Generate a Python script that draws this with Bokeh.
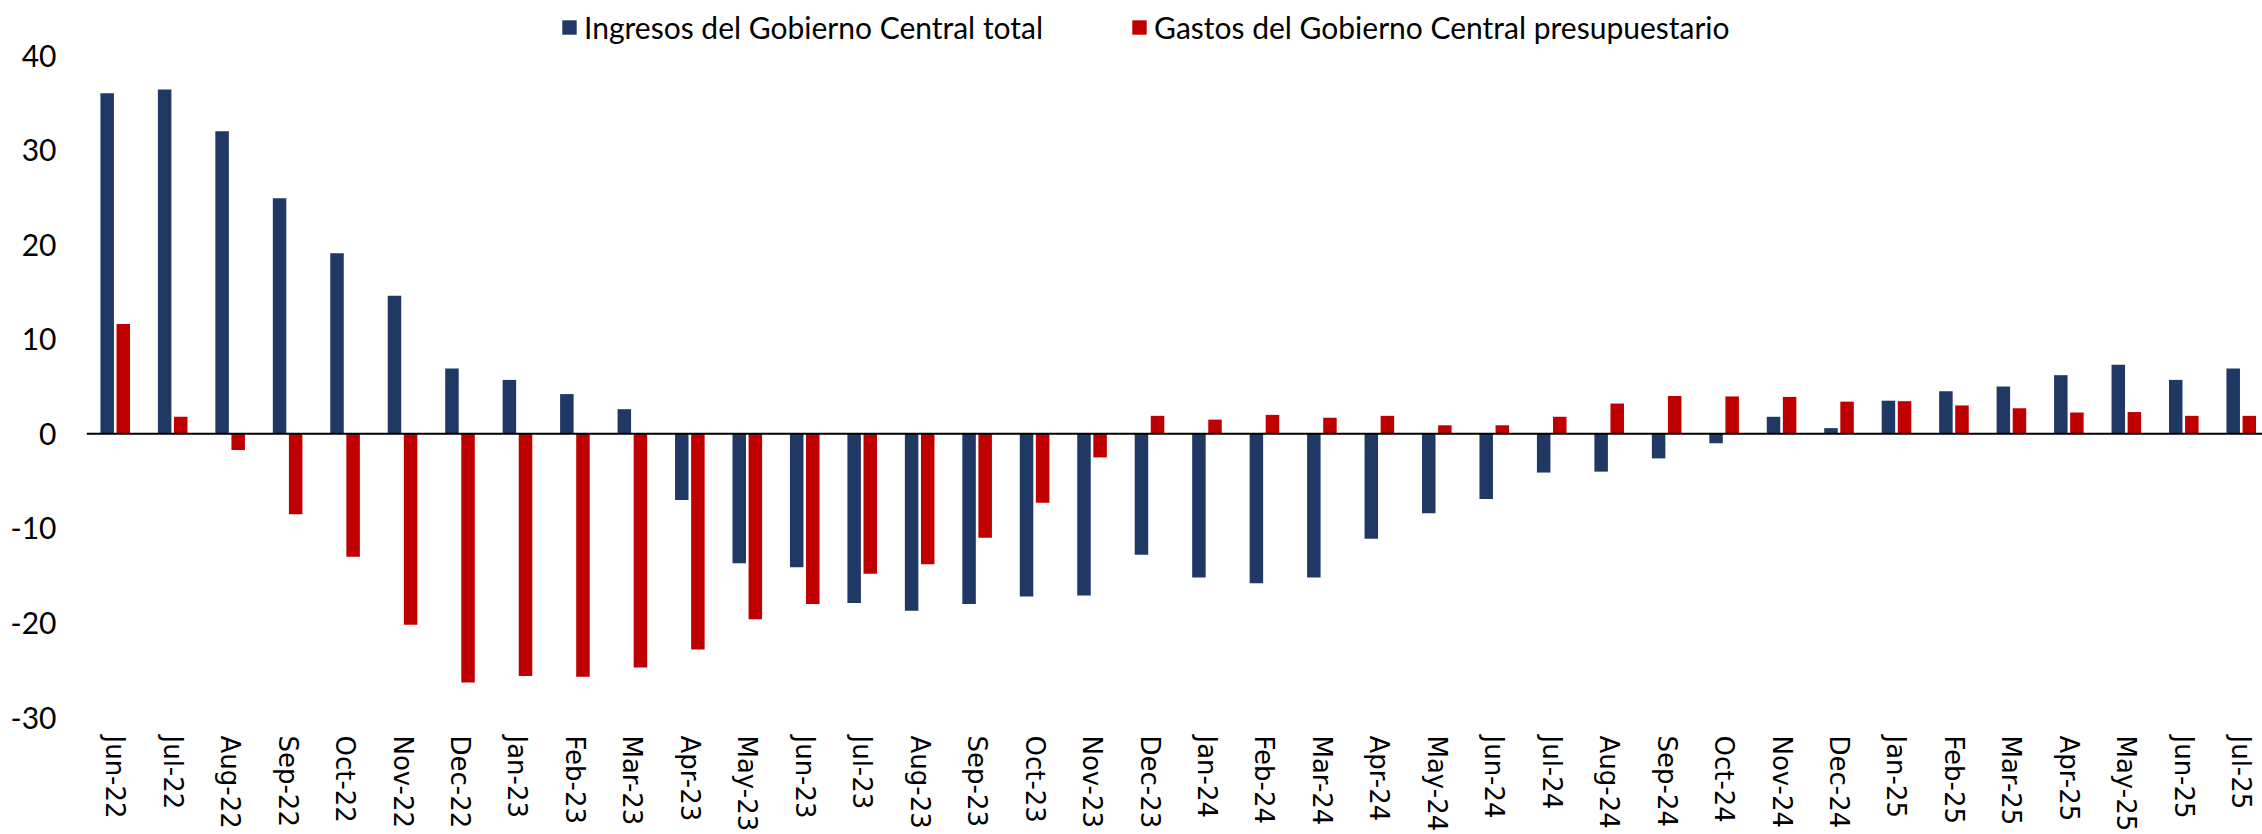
from bokeh.plotting import figure
from bokeh.models import ColumnDataSource, Range1d, FixedTicker, Span, Legend, LegendItem
from bokeh.transform import dodge
from bokeh.embed import file_html
from bokeh.resources import INLINE

months = ["Jun-22", "Jul-22", "Aug-22", "Sep-22", "Oct-22", "Nov-22", "Dec-22",
          "Jan-23", "Feb-23", "Mar-23", "Apr-23", "May-23", "Jun-23", "Jul-23",
          "Aug-23", "Sep-23", "Oct-23", "Nov-23", "Dec-23",
          "Jan-24", "Feb-24", "Mar-24", "Apr-24", "May-24", "Jun-24", "Jul-24",
          "Aug-24", "Sep-24", "Oct-24", "Nov-24", "Dec-24",
          "Jan-25", "Feb-25", "Mar-25", "Apr-25", "May-25", "Jun-25", "Jul-25"]

ingresos = [36.0, 36.4, 32.0, 24.9, 19.1, 14.6, 6.9,
            5.7, 4.2, 2.6, -7.0, -13.7, -14.1, -17.9,
            -18.7, -18.0, -17.2, -17.1, -12.8,
            -15.2, -15.8, -15.2, -11.1, -8.4, -6.9, -4.1,
            -4.0, -2.6, -1.0, 1.8, 0.6,
            3.5, 4.5, 5.0, 6.2, 7.3, 5.7, 6.9]

gastos = [11.6, 1.8, -1.7, -8.5, -13.0, -20.2, -26.3,
          -25.6, -25.7, -24.7, -22.8, -19.6, -18.0, -14.8,
          -13.8, -11.0, -7.3, -2.5, 1.9,
          1.5, 2.0, 1.7, 1.9, 0.9, 0.9, 1.8,
          3.2, 4.0, 3.95, 3.9, 3.4,
          3.45, 3.0, 2.7, 2.25, 2.3, 1.9, 1.9]

y_ticks = [-30, -20, -10, 0, 10, 20, 30, 40]
y_tick_labels = ["-30", "-20", "-10", "0", "10", "20", "30", "40"]

series_names = ["Ingresos del Gobierno Central total", "Gastos del Gobierno Central presupuestario"]
colors = ["#1F3864", "#C00000"]

src = ColumnDataSource(dict(x=list(range(len(months))), ing=ingresos, gas=gastos))

# frame: 86..2262 px wide, 0..717 px tall; headroom above 40 holds the legend
p = figure(width=2262, height=834, output_backend="svg", toolbar_location=None,
           x_range=Range1d(-0.5, 37.37), y_range=Range1d(-30, 45.82),
           min_border_left=86, min_border_right=0, min_border_top=0, min_border_bottom=117)

r1 = p.vbar(x=dodge("x", -0.14), top="ing", width=0.235, source=src,
            fill_color=colors[0], line_color=None)
r2 = p.vbar(x=dodge("x", 0.14), top="gas", width=0.235, source=src,
            fill_color=colors[1], line_color=None)

p.add_layout(Span(location=0, dimension="width", line_color="#000000", line_width=2))

p.xgrid.grid_line_color = None
p.ygrid.grid_line_color = None
p.outline_line_color = None

xa = p.xaxis[0]
xa.ticker = FixedTicker(ticks=list(range(len(months))))
xa.major_label_overrides = {i: m for i, m in enumerate(months)}
xa.major_label_orientation = "vertical"
xa.major_label_text_font = "DejaVu Sans"
xa.major_label_text_font_size = "26px"
xa.major_label_text_color = "#000000"
xa.axis_line_color = None
xa.major_tick_line_color = None
xa.minor_tick_line_color = None
xa.major_tick_out = 0
xa.major_tick_in = 0
xa.major_label_standoff = 18

ya = p.yaxis[0]
ya.ticker = FixedTicker(ticks=y_ticks)
ya.major_label_overrides = {t: s for t, s in zip(y_ticks, y_tick_labels)}
ya.major_label_text_font = "Lato"
ya.major_label_text_font_size = "30px"
ya.major_label_text_color = "#000000"
ya.axis_line_color = None
ya.major_tick_line_color = None
ya.minor_tick_line_color = None
ya.major_tick_out = 0
ya.major_tick_in = 0
ya.major_label_standoff = 30

legend = Legend(items=[LegendItem(label=series_names[0], renderers=[r1]),
                       LegendItem(label=series_names[1], renderers=[r2])],
                orientation="horizontal", location=(474, 672),
                glyph_width=18, glyph_height=18, label_standoff=6, spacing=87,
                padding=0, margin=0, border_line_color=None, background_fill_alpha=0,
                label_text_font="Lato", label_text_font_size="30px",
                label_text_color="#000000")
p.add_layout(legend, "center")

open("out.html", "w").write(file_html(p, INLINE))
